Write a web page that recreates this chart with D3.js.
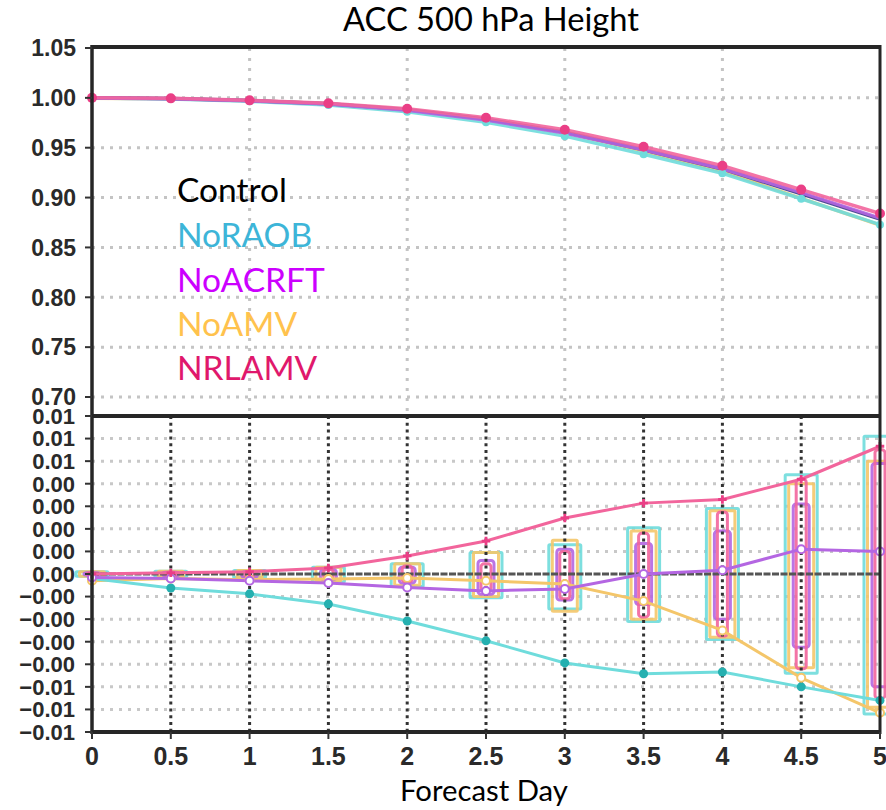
<!DOCTYPE html>
<html><head><meta charset="utf-8">
<script src="https://cdn.jsdelivr.net/npm/d3@7"></script>
<style>body{margin:0;background:#fff}</style>
</head><body>
<svg id="c" width="886" height="810"></svg>
<script>
// ---------------- data ----------------
const days = [0, 0.5, 1, 1.5, 2, 2.5, 3, 3.5, 4, 4.5, 5];
const xTickLabels = ["0","0.5","1","1.5","2","2.5","3","3.5","4","4.5","5"];
const topTicks = [0.70, 0.75, 0.80, 0.85, 0.90, 0.95, 1.00, 1.05];
const topTickLabels = ["0.70","0.75","0.80","0.85","0.90","0.95","1.00","1.05"];
const diffTicks = [-0.007,-0.006,-0.005,-0.004,-0.003,-0.002,-0.001,0,0.001,0.002,0.003,0.004,0.005,0.006,0.007];
const diffTickLabels = ["\u22120.01","\u22120.01","\u22120.01","\u22120.00","\u22120.00","\u22120.00","\u22120.00","0.00","0.00","0.00","0.00","0.00","0.01","0.01","0.01"];
const seriesNames = ["Control","NoRAOB","NoACRFT","NoAMV","NRLAMV"];

// ACC (top panel)
const accControl = [1.0000, 0.9994, 0.9974, 0.9942, 0.9882, 0.9785, 0.9655, 0.9479, 0.9287, 0.9038, 0.8784];
const accNoRAOB  = [0.9998, 0.9988, 0.9965, 0.9929, 0.9861, 0.9755, 0.9616, 0.9435, 0.9244, 0.8988, 0.8728];
const accNoACRFT = [0.9998, 0.9992, 0.9971, 0.9938, 0.9876, 0.9778, 0.9648, 0.9479, 0.9289, 0.9049, 0.8794];
const accNoAMV   = [0.9997, 0.9992, 0.9972, 0.9940, 0.9880, 0.9782, 0.9651, 0.9467, 0.9262, 0.8992, 0.8723];
const accNRLAMV  = [1.0000, 0.9995, 0.9975, 0.9945, 0.9890, 0.9800, 0.9680, 0.9510, 0.9320, 0.9080, 0.8840];

// differences from Control (bottom panel)
const diffNoRAOB  = [-0.00020,-0.00062,-0.00088,-0.00133,-0.00208,-0.00296,-0.00394,-0.00442,-0.00434,-0.00500,-0.00560];
const diffNoACRFT = [-0.00015,-0.00020,-0.00030,-0.00040,-0.00060,-0.00075,-0.00066, 0.00000, 0.00017, 0.00110, 0.00100];
const diffNoAMV   = [-0.00030,-0.00020,-0.00025,-0.00022,-0.00018,-0.00030,-0.00044,-0.00120,-0.00250,-0.00460,-0.00615];
const diffNRLAMV  = [ 0.00000, 0.00005, 0.00010, 0.00027, 0.00080, 0.00146, 0.00248, 0.00314, 0.00330, 0.00420, 0.00566];

// significance boxes (upper / lower bounds)
const ciNoRAOBHi  = [0.00010,0.00012,0.00015,0.00030,0.00045,0.00095,0.00130,0.00205,0.00290,0.00440,0.00610];
const ciNoRAOBLo  = [-0.00010,-0.00012,-0.00015,-0.00035,-0.00055,-0.00105,-0.00155,-0.00210,-0.00290,-0.00440,-0.00620];
const ciNoAMVHi   = [0.00010,0.00012,0.00015,0.00030,0.00045,0.00095,0.00150,0.00190,0.00280,0.00400,0.00500];
const ciNoAMVLo   = [-0.00010,-0.00012,-0.00015,-0.00030,-0.00050,-0.00100,-0.00165,-0.00200,-0.00280,-0.00415,-0.00590];
const ciNoACRFTHi = [0.00005,0.00008,0.00010,0.00020,0.00030,0.00060,0.00110,0.00135,0.00190,0.00310,0.00490];
const ciNoACRFTLo = [-0.00005,-0.00008,-0.00015,-0.00025,-0.00040,-0.00090,-0.00115,-0.00135,-0.00200,-0.00325,-0.00500];
const ciNRLAMVHi  = [0.00005,0.00008,0.00010,0.00020,0.00035,0.00045,0.00100,0.00180,0.00275,0.00420,0.00550];
const ciNRLAMVLo  = [-0.00005,-0.00008,-0.00010,-0.00020,-0.00035,-0.00075,-0.00110,-0.00190,-0.00275,-0.00420,-0.00550];

// ---------------- styles ----------------
const legendColors = ["#000000","#3db5d8","#cc00ff","#ffc24d","#e0186c"];
const C = {ctl:"#3b3a86", cyan:"#6fdcdc", cyanDot:"#25b0b0", purple:"#b466e2", yellow:"#f4c66a", pink:"#f2659c", pinkDot:"#ea3f86"};

const svg = d3.select("#c");
const x  = d3.scaleLinear().domain([0,5]).range([92,880]);
const yT = d3.scaleLinear().domain([0.70,1.05]).range([397,48]);
const yB = d3.scaleLinear().domain([-0.007,0.007]).range([732,416]);
const tickFont = "'Liberation Sans', Arial, sans-serif";

// ---- top panel grid ----
const gT = svg.append("g");
gT.selectAll("line.h").data(topTicks.filter(t => t < 1.04)).enter().append("line")
  .attr("x1", x(0)).attr("x2", x(5)).attr("y1", d => yT(d)).attr("y2", d => yT(d))
  .attr("stroke","#c4c4c4").attr("stroke-width",3).attr("stroke-dasharray","3,6");
gT.selectAll("line.v").data([1,2,3,4]).enter().append("line")
  .attr("x1", d => x(d)).attr("x2", d => x(d)).attr("y1", yT(1.05)).attr("y2", 416)
  .attr("stroke","#c4c4c4").attr("stroke-width",3).attr("stroke-dasharray","3,7");

// ---- bottom panel grid ----
const gB = svg.append("g");
gB.selectAll("line.h").data(diffTicks.filter(t => Math.abs(t) > 1e-9 && Math.abs(t) < 0.0069)).enter().append("line")
  .attr("x1", x(0)).attr("x2", x(5)).attr("y1", d => yB(d)).attr("y2", d => yB(d))
  .attr("stroke","#c8c8c8").attr("stroke-width",3).attr("stroke-dasharray","3,6");

// ---- significance boxes ----
const boxSets = [
  {hi:ciNoRAOBHi, lo:ciNoRAOBLo, color:C.cyan, hw:16, rx:1},
  {hi:ciNoAMVHi, lo:ciNoAMVLo, color:C.yellow, hw:12.5, rx:1},
  {hi:ciNoACRFTHi, lo:ciNoACRFTLo, color:C.purple, hw:8, rx:3},
  {hi:ciNRLAMVHi, lo:ciNRLAMVLo, color:C.pink, hw:5, rx:3}
];
boxSets.forEach(b => {
  gB.append("g").selectAll("rect").data(days.map((d,i) => ({d, hi:b.hi[i], lo:b.lo[i]}))).enter().append("rect")
    .attr("x", p => x(p.d) - b.hw).attr("width", b.hw*2)
    .attr("y", p => yB(p.hi)).attr("height", p => Math.max(2, yB(p.lo) - yB(p.hi)))
    .attr("rx", b.rx).attr("fill","none").attr("stroke", b.color).attr("stroke-width",3).attr("opacity",0.9);
});

// zero line & vertical dark dotted lines
gB.append("line").attr("x1", x(0)).attr("x2", x(5)).attr("y1", yB(0)).attr("y2", yB(0))
  .attr("stroke","#555").attr("stroke-width",3).attr("stroke-dasharray","7,1.5");
gB.selectAll("line.v").data(days.filter(d => d > 0 && d < 5)).enter().append("line")
  .attr("x1", d => x(d)).attr("x2", d => x(d)).attr("y1", 416).attr("y2", 732)
  .attr("stroke","#333").attr("stroke-width",3).attr("stroke-dasharray","3,3.8");

// ---- bottom lines ----
const lineB = d3.line().x((v,i) => x(days[i])).y(v => yB(v));
[[diffNoAMV,C.yellow],[diffNoRAOB,C.cyan],[diffNoACRFT,C.purple],[diffNRLAMV,C.pink]].forEach(([s,c]) => {
  gB.append("path").attr("d", lineB(s)).attr("fill","none").attr("stroke",c).attr("stroke-width",3);
});
gB.selectAll("circle.cy").data(diffNoRAOB).enter().append("circle")
  .attr("cx",(v,i)=>x(days[i])).attr("cy",v=>yB(v)).attr("r",4.5).attr("fill",C.cyanDot);
gB.selectAll("circle.am").data(diffNoAMV).enter().append("circle")
  .attr("cx",(v,i)=>x(days[i])).attr("cy",v=>yB(v)).attr("r",4).attr("fill","#fff").attr("stroke",C.yellow).attr("stroke-width",2);
gB.selectAll("circle.ac").data(diffNoACRFT).enter().append("circle")
  .attr("cx",(v,i)=>x(days[i])).attr("cy",v=>yB(v)).attr("r",4).attr("fill","#fff").attr("stroke",C.purple).attr("stroke-width",2);
gB.selectAll("path.pk").data(diffNRLAMV).enter().append("path")
  .attr("d", d3.symbol(d3.symbolCross, 40)())
  .attr("transform",(v,i)=>`translate(${x(days[i])},${yB(v)})`).attr("fill",C.pinkDot);

// ---- top lines ----
const lineT = d3.line().x((v,i) => x(days[i])).y(v => yT(v));
[[accNoAMV,C.yellow],[accNoRAOB,C.cyan],[accControl,C.ctl],[accNoACRFT,C.purple],[accNRLAMV,C.pink]].forEach(([s,c]) => {
  gT.append("path").attr("d", lineT(s)).attr("fill","none").attr("stroke",c).attr("stroke-width",3.5).attr("opacity",0.9);
});
gT.selectAll("circle.cy").data(accNoRAOB).enter().append("circle")
  .attr("cx",(v,i)=>x(days[i])).attr("cy",v=>yT(v)).attr("r",4).attr("fill",C.cyan);
gT.selectAll("circle.pk").data(accNRLAMV).enter().append("circle")
  .attr("cx",(v,i)=>x(days[i])).attr("cy",v=>yT(v)).attr("r",5).attr("fill",C.pinkDot);

// ---- frame ----
const fr = svg.append("g").attr("stroke","#262626");
fr.append("line").attr("x1",x(0)).attr("x2",x(5)).attr("y1",47).attr("y2",47).attr("stroke-width",4);
fr.append("line").attr("x1",x(0)).attr("x2",x(5)).attr("y1",416).attr("y2",416).attr("stroke-width",4);
fr.append("line").attr("x1",x(0)).attr("x2",x(5)).attr("y1",732).attr("y2",732).attr("stroke-width",4);
fr.append("line").attr("x1",x(0)).attr("x2",x(0)).attr("y1",45).attr("y2",734).attr("stroke-width",3.5);
fr.append("line").attr("x1",x(5)).attr("x2",x(5)).attr("y1",45).attr("y2",734).attr("stroke-width",3);

// ---- axes ticks & labels ----
const ax = svg.append("g");
ax.selectAll("line.tt").data(topTicks).enter().append("line")
  .attr("x1",85).attr("x2",92).attr("y1",d=>yT(d)).attr("y2",d=>yT(d)).attr("stroke","#333").attr("stroke-width",2);
ax.selectAll("line.bt").data(diffTicks).enter().append("line")
  .attr("x1",85).attr("x2",92).attr("y1",d=>yB(d)).attr("y2",d=>yB(d)).attr("stroke","#333").attr("stroke-width",2);
ax.selectAll("line.xt").data(days).enter().append("line")
  .attr("x1",d=>x(d)).attr("x2",d=>x(d)).attr("y1",732).attr("y2",739).attr("stroke","#333").attr("stroke-width",2);

ax.selectAll("text.tl").data(topTicks).enter().append("text")
  .attr("x",76).attr("y",d=>yT(d)).attr("dy","0.36em").attr("text-anchor","end")
  .attr("font-family",tickFont).attr("font-weight","bold").attr("font-size",23).attr("fill","#2a2a2a")
  .text((d,i)=>topTickLabels[i]);
ax.selectAll("text.bl").data(diffTicks).enter().append("text")
  .attr("x",75).attr("y",d=>yB(d)).attr("dy","0.36em").attr("text-anchor","end")
  .attr("font-family",tickFont).attr("font-weight","bold").attr("font-size",22).attr("fill","#2a2a2a")
  .text((d,i)=>diffTickLabels[i]);
ax.selectAll("text.xl").data(days).enter().append("text")
  .attr("x",d=>x(d)).attr("y",765).attr("text-anchor","middle")
  .attr("font-family",tickFont).attr("font-weight","bold").attr("font-size",25).attr("fill","#2a2a2a")
  .text((d,i)=>xTickLabels[i]);

// ---- text: title, xlabel, legend ----
function fitWidth(sel, w){
  const cur = sel.node().getComputedTextLength();
  const fs = parseFloat(sel.attr("font-size"));
  sel.attr("font-size", fs * w / cur);
}
const title = svg.append("text").attr("x",491).attr("y",31).attr("text-anchor","middle")
  .attr("font-family","Lato, 'Open Sans', sans-serif").attr("font-size",28).attr("fill","#000")
  .text("ACC 500 hPa Height");
fitWidth(title, 296);
const xl = svg.append("text").attr("x",484).attr("y",801).attr("text-anchor","middle")
  .attr("font-family","Lato, 'Open Sans', sans-serif").attr("font-size",26).attr("fill","#000")
  .text("Forecast Day");
fitWidth(xl, 168);

const legY = [202, 247, 292, 336, 380];
const leg = svg.append("g").selectAll("text").data(seriesNames).enter().append("text")
  .attr("x",177).attr("y",(d,i)=>legY[i])
  .attr("font-family","Lato, 'Open Sans', sans-serif").attr("font-size",32)
  .attr("fill",(d,i)=>legendColors[i]).text(d=>d);
fitWidth(d3.select(leg.nodes()[0]), 110);
leg.attr("font-size", d3.select(leg.nodes()[0]).attr("font-size"));
</script>
</body></html>
